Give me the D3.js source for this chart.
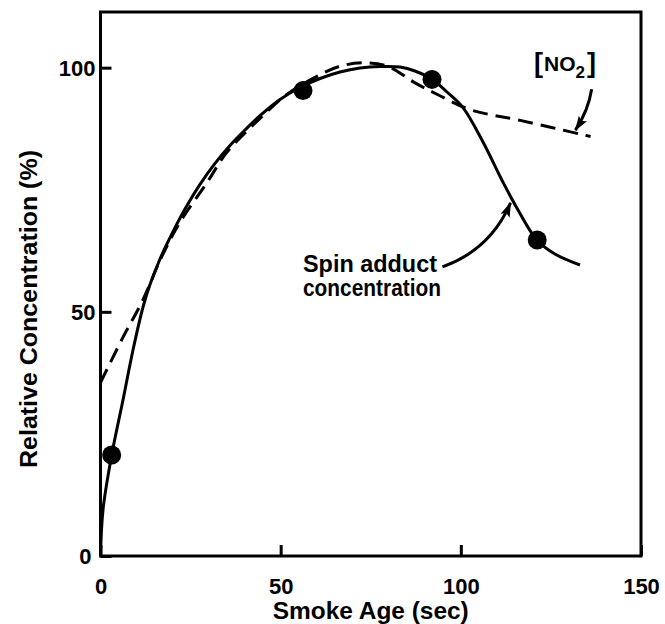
<!DOCTYPE html>
<html>
<head>
<meta charset="utf-8">
<script src="https://cdn.jsdelivr.net/npm/d3@7/dist/d3.min.js"></script>
<style>
  html, body { margin: 0; padding: 0; background: #fff; }
  svg { display: block; }
  text { font-family: "Liberation Sans", Arial, sans-serif; font-weight: bold; fill: #000; }
</style>
</head>
<body>
<svg id="chart" width="665" height="624"></svg>
<script>
// ---- data ----
const xTicks = [0, 50, 100, 150];
const yTicks = [0, 50, 100];

// measured points (smoke age, relative concentration)
const pointX = [3.1, 56.2, 92.0, 121.2];
const pointY = [20.7, 95.3, 97.6, 64.7];

// spin adduct concentration curve (solid)
const spinX = [0, 0.69, 3.11, 6.24, 9.02, 11.8, 13.74, 16.51, 19.29, 23.45, 27.61, 31.78, 35.94, 40.1, 44.26, 49.81, 55.37, 60.92, 66.47, 72.02, 77.57, 83.12, 87.28, 91.92, 96.16, 100.6, 106.15, 111.67, 115.56, 121.11, 126.1, 133.07];
const spinY = [0, 9.42, 20.68, 31.95, 42.19, 50.99, 55.58, 60.82, 65.2, 71.06, 76.1, 80.4, 84.08, 87.24, 90.16, 93.48, 95.94, 97.78, 99.11, 99.93, 100.24, 100.14, 99.32, 97.68, 95.02, 91.82, 84.78, 76.59, 71.26, 64.71, 61.84, 59.59];

// [NO2] curve (dashed)
const no2X = [0, 5.9, 11.8, 17, 22.1, 29.5, 35, 43.4, 51.7, 59, 66.5, 73.9, 80, 86.8, 93.5, 102.6, 116.5, 136];
const no2Y = [35.5, 44.3, 52.5, 61.3, 68.4, 76.4, 82.6, 89, 94.5, 97.8, 100.3, 101, 100.2, 97.1, 94.5, 91.4, 89.2, 85.9];

// annotations (data units)
const spinLabel = ["Spin adduct", "concentration"];
const spinArrow = [[94.9, 59.2], [108.2, 62.7], [113.8, 72.3]];
const no2Arrow = [[136.3, 95.6], [135.4, 91.3], [131.8, 87.2]];

// ---- layout ----
const svg = d3.select("#chart");
const mLeft = 100.5, mRight = 641, mTop = 12, mBottom = 556;
const x = d3.scaleLinear().domain([0, 150]).range([mLeft, mRight]);
const y = d3.scaleLinear().domain([0, 111.4]).range([mBottom, mTop]);

// frame
svg.append("rect")
  .attr("x", mLeft).attr("y", mTop)
  .attr("width", mRight - mLeft).attr("height", mBottom - mTop)
  .attr("fill", "none").attr("stroke", "#000").attr("stroke-width", 3);

// axes
const xAxis = svg.append("g").attr("transform", `translate(0,${mBottom})`)
  .call(d3.axisBottom(x).tickValues(xTicks).tickSize(-11).tickFormat(d3.format("d")));
xAxis.select(".domain").remove();
xAxis.selectAll("line").attr("stroke", "#000").attr("stroke-width", 3);
xAxis.selectAll("text").attr("y", 38).attr("dy", 0)
  .style("font-size", "22px").style("font-family", "'Liberation Sans', Arial, sans-serif").style("font-weight", "bold");

const yAxis = svg.append("g").attr("transform", `translate(${mLeft},0)`)
  .call(d3.axisLeft(y).tickValues(yTicks).tickSize(-11).tickPadding(5).tickFormat(d3.format("d")));
yAxis.select(".domain").remove();
yAxis.selectAll("line").attr("stroke", "#000").attr("stroke-width", 3);
yAxis.selectAll("text").attr("dy", "0.36em")
  .style("font-size", "22px").style("font-family", "'Liberation Sans', Arial, sans-serif").style("font-weight", "bold");
yAxis.selectAll(".tick").filter(d => d === 0).select("text").attr("x", -9);

// axis titles
svg.append("text")
  .attr("x", x(75)).attr("y", 619)
  .attr("text-anchor", "middle")
  .attr("textLength", 196).attr("lengthAdjust", "spacingAndGlyphs")
  .style("font-size", "24px")
  .text("Smoke Age (sec)");

svg.append("text")
  .attr("transform", `translate(37,${(150 + 468) / 2}) rotate(-90)`)
  .attr("text-anchor", "middle")
  .attr("textLength", 318).attr("lengthAdjust", "spacingAndGlyphs")
  .style("font-size", "24px")
  .text("Relative Concentration (%)");

// curves
const line = d3.line().x(d => x(d[0])).y(d => y(d[1])).curve(d3.curveCatmullRom.alpha(0.5));
const spin = spinX.map((v, i) => [v, spinY[i]]);
const no2 = no2X.map((v, i) => [v, no2Y[i]]);

svg.append("path").datum(no2).attr("d", line)
  .attr("fill", "none").attr("stroke", "#000").attr("stroke-width", 3)
  .attr("stroke-dasharray", "15,8");

svg.append("path").datum(spin).attr("d", line)
  .attr("fill", "none").attr("stroke", "#000").attr("stroke-width", 3);

// points
svg.selectAll("circle.pt").data(pointX.map((v, i) => [v, pointY[i]]))
  .enter().append("circle").attr("class", "pt")
  .attr("cx", d => x(d[0])).attr("cy", d => y(d[1])).attr("r", 9.5)
  .attr("fill", "#000");

// arrow marker
svg.append("defs").append("marker")
  .attr("id", "ah").attr("viewBox", "0 0 15 10")
  .attr("refX", 14).attr("refY", 5)
  .attr("markerWidth", 15).attr("markerHeight", 10)
  .attr("markerUnits", "userSpaceOnUse")
  .attr("orient", "auto")
  .append("path").attr("d", "M0,0 L15,5 L0,10 L3,5 Z").attr("fill", "#000");

const quad = p => `M${x(p[0][0])},${y(p[0][1])} Q${x(p[1][0])},${y(p[1][1])} ${x(p[2][0])},${y(p[2][1])}`;
svg.append("path").attr("d", quad(spinArrow))
  .attr("fill", "none").attr("stroke", "#000").attr("stroke-width", 3)
  .attr("marker-end", "url(#ah)");
svg.append("path").attr("d", quad(no2Arrow))
  .attr("fill", "none").attr("stroke", "#000").attr("stroke-width", 3)
  .attr("marker-end", "url(#ah)");

// annotation texts
svg.append("text").attr("x", x(56.2)).attr("y", y(58.2))
  .attr("textLength", 134).attr("lengthAdjust", "spacingAndGlyphs")
  .style("font-size", "23px").text(spinLabel[0]);
svg.append("text").attr("x", x(56.2)).attr("y", y(53.3))
  .attr("textLength", 138).attr("lengthAdjust", "spacingAndGlyphs")
  .style("font-size", "23px").text(spinLabel[1]);

const no2t = svg.append("text").attr("x", x(120.3)).attr("y", y(99.3))
  .style("font-size", "21px");
no2t.append("tspan").style("font-size", "27px").attr("dy", 1).text("[");
no2t.append("tspan").attr("dx", 1).attr("dy", -1).text("NO");
no2t.append("tspan").attr("dy", 7).style("font-size", "17px").text("2");
no2t.append("tspan").attr("dx", 2).attr("dy", -6).style("font-size", "27px").text("]");
</script>
</body>
</html>
